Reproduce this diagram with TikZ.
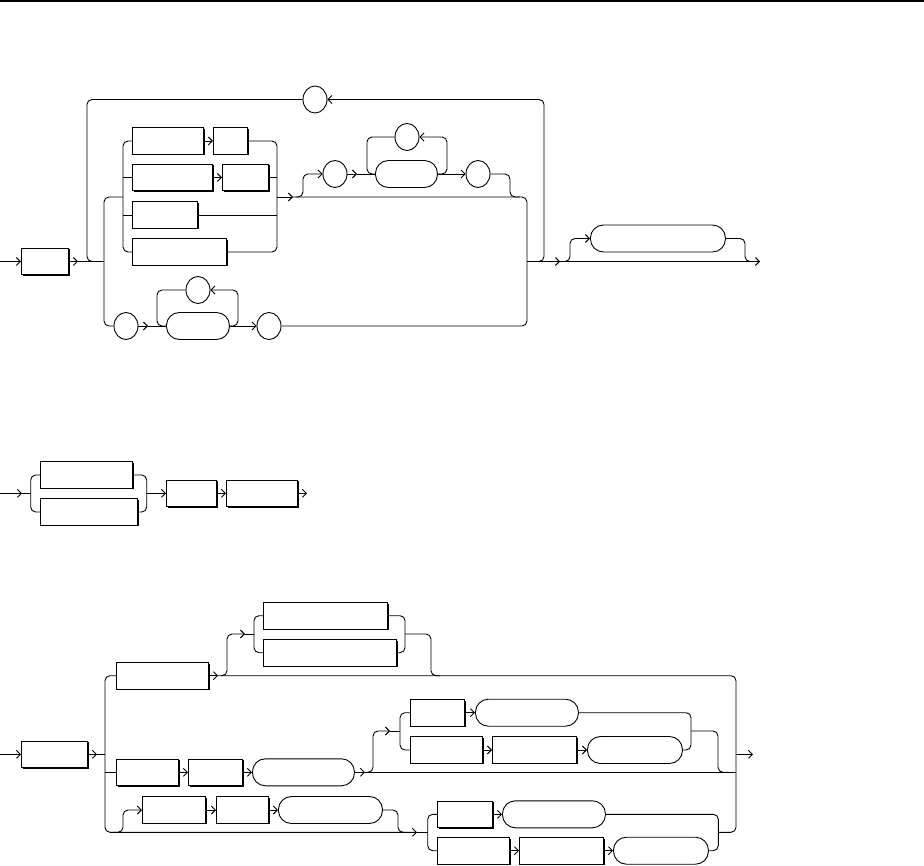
\documentclass[tikz,border=0pt]{standalone}
\usepackage{tikz}
\usetikzlibrary{arrows.meta}
\usetikzlibrary{shadows}
\usetikzlibrary{shapes.geometric}

\begin{document}
\begin{tikzpicture}[x=1pt, y=-1pt, line width=0.9pt,
    arr/.style={-{Straight Barb[length=4pt,width=8pt]}},
    box/.style={draw, fill=white, anchor=west, inner sep=0, minimum height=26.5pt,
      drop shadow={shadow xshift=1.1pt, shadow yshift=-1.1pt, opacity=1, fill=black}},
    pill/.style={draw, fill=white, anchor=west, inner sep=0, minimum height=27pt, rounded corners=13pt},
    rnd/.style={draw, fill=white, ellipse, inner sep=0, minimum width=24pt, minimum height=27pt},
    rc/.style={rounded corners=5pt}]
          \useasboundingbox (0,0) rectangle (924,866);
          \draw [line width=1.3pt] (0,1) -- (924,1);

          % first rule
          \node [box, minimum width=47pt] (a) at (21,261.5) {};
          \node [box, minimum width=71pt] (b1) at (132,141) {};
          \node [box, minimum width=34pt] (b2) at (213,141) {};
          \node [box, minimum width=80pt] (c1) at (132,177.5) {};
          \node [box, minimum width=46pt] (c2) at (222,177.5) {};
          \node [box, minimum width=65pt] (d) at (132,215) {};
          \node [box, minimum width=94pt] (e) at (132,252) {};
          \node [rnd] (t) at (315,99.5) {};
          \node [rnd] (f) at (335,174) {};
          \node [pill, minimum width=62pt] (g) at (375,174) {};
          \node [rnd] (h) at (407,137) {};
          \node [rnd] (i) at (478,174) {};
          \node [pill, minimum width=135pt] (j) at (590,238.5) {};
          \node [rnd] (k) at (126,326) {};
          \node [pill, minimum width=63pt] (l) at (166,326) {};
          \node [rnd] (m) at (198,290) {};
          \node [rnd] (n) at (269,326) {};
          \coordinate (in1) at (0,261.5);
          \coordinate (out1) at (760,261.5);

          \draw [arr] (in1) -- (a.west);
          \draw [arr] (a.east) -- (78,261.5);
          \draw (78,261.5) -- (104,261.5);
          \draw [rc] (t.west) -| (87,261.5) -- (100,261.5);
          \draw [arr, rc] (535,261.5) -| (544,99.5) -- (t.east);
          \draw [rc] (123,197) -| (104,326) -- (k.west);
          \draw [rc] (b1.west) -| (123,252) -- (e.west);
          \draw (123,177.5) -- (c1.west);
          \draw (123,215) -- (d.west);
          \draw [arr] (b1.east) -- (b2.west);
          \draw [arr] (c1.east) -- (c2.west);
          \draw [rc] (b2.east) -| (277,252) -- (e.east);
          \draw (c2.east) -- (277,177.5);
          \draw (d.east) -- (277,215);
          \draw [arr] (277,197) -- (293,197);
          \draw [rc] (293,197) -| (527,326) -- (n.east);
          \draw [arr, rc] (296,197) -| (303,174) -- (f.west);
          \draw [arr] (f.east) -- (357,174);
          \draw (357,174) -- (g.west);
          \draw [rc] (h.west) -| (367,174) -- (g.west);
          \draw [arr, rc] (g.east) -| (447,137) -- (h.east);
          \draw [arr] (g.east) -- (i.west);
          \draw [rc] (i.east) -| (510,197) -- (520,197);
          \draw [arr] (k.east) -- (148,326);
          \draw (148,326) -- (l.west);
          \draw [rc] (m.west) -| (157,326) -- (l.west);
          \draw [arr, rc] (l.east) -| (238,290) -- (m.east);
          \draw [arr] (l.east) -- (n.west);
          \draw [arr] (527,261.5) -- (560,261.5);
          \draw [arr] (560,261.5) -- (out1);
          \draw [arr, rc] (563,261.5) -| (570,238.5) -- (j.west);
          \draw [rc] (j.east) -| (745,261.5) -- (752,261.5);

          % second rule
          \node [box, minimum width=92pt] (p1) at (40,475) {};
          \node [box, minimum width=97pt] (p2) at (40,512) {};
          \node [box, minimum width=50pt] (q) at (166,493.3) {};
          \node [box, minimum width=71pt] (r) at (226,493.3) {};
          \coordinate (in2) at (0,493.3);
          \coordinate (out2) at (307,493.3);
          \draw [arr] (in2) -- (22,493.3);
          \draw (22,493.3) -- (30.7,493.3);
          \draw [rc] (p1.west) -| (30.7,512) -- (p2.west);
          \draw [rc] (p1.east) -| (146.7,512) -- (p2.east);
          \draw [arr] (146.7,493.3) -- (q.west);
          \draw [arr] (q.east) -- (r.west);
          \draw [arr] (r.east) -- (out2);

          % third rule
          \node [box, minimum width=66pt] (s) at (21,754.3) {};
          \node [box, minimum width=92pt] (tt) at (116,675.7) {};
          \node [box, minimum width=124pt] (u1) at (263,615.7) {};
          \node [box, minimum width=133pt] (u2) at (263,652.7) {};
          \node [box, minimum width=62pt] (v1) at (116,772.3) {};
          \node [box, minimum width=54pt] (v2) at (188,772.3) {};
          \node [pill, minimum width=102pt] (v3) at (252,772.3) {};
          \node [box, minimum width=54pt] (w1) at (410,712.7) {};
          \node [pill, minimum width=103pt] (w2) at (475,712.7) {};
          \node [box, minimum width=72pt] (x1) at (410,750) {};
          \node [box, minimum width=84pt] (x2) at (492,750) {};
          \node [pill, minimum width=95pt] (x3) at (587,750) {};
          \node [box, minimum width=63pt] (y1) at (142,810) {};
          \node [box, minimum width=52pt] (y2) at (216,810) {};
          \node [pill, minimum width=104pt] (y3) at (278,810) {};
          \node [box, minimum width=55pt] (z1) at (437,814.3) {};
          \node [pill, minimum width=103pt] (z2) at (502,814.3) {};
          \node [box, minimum width=72pt] (z3) at (437,850.7) {};
          \node [box, minimum width=84pt] (z4) at (519,850.7) {};
          \node [pill, minimum width=95pt] (z5) at (613,850.7) {};
          \coordinate (in3) at (0,754.3);
          \coordinate (out3) at (753,754.3);

          \draw [arr] (in3) -- (s.west);
          \draw [arr] (s.east) -- (97,754.3);
          \draw (97,754.3) -- (105,754.3);
          \draw [arr, rc] (tt.west) -| (105,832.3) -- (417,832.3);
          \draw (417,832.3) -- (427.7,832.3);
          \draw (105,772.3) -- (v1.west);
          \draw [arr] (tt.east) -- (218,675.7);
          \draw [rc] (218,675.7) -| (736,832.3) -- (718.3,832.3);
          \draw [arr] (736,754.3) -- (out3);
          \draw [arr, rc] (221,675.7) -| (227,634) -- (245,634);
          \draw (245,634) -- (254,634);
          \draw [rc] (u1.west) -| (254,652.7) -- (u2.west);
          \draw [rc] (u1.east) -| (405,652.7) -- (u2.east);
          \draw [rc] (405,634) -| (431,675.7) -- (440,675.7);
          \draw [arr] (v1.east) -- (v2.west);
          \draw [arr] (v2.east) -- (v3.west);
          \draw [arr] (v3.east) -- (365,772.3);
          \draw (365,772.3) -- (736,772.3);
          \draw [arr, rc] (367,772.3) -| (373,731) -- (390,731);
          \draw (390,731) -- (400,731);
          \draw [rc] (w1.west) -| (400,750) -- (x1.west);
          \draw [rc] (w2.east) -| (691,750) -- (x3.east);
          \draw [arr] (w1.east) -- (w2.west);
          \draw [arr] (x1.east) -- (x2.west);
          \draw [arr] (x2.east) -- (x3.west);
          \draw [rc] (691,731) -| (718,772.3) -- (728,772.3);
          \draw [arr, rc] (113,832.3) -| (123,810) -- (y1.west);
          \draw [arr] (y1.east) -- (y2.west);
          \draw [arr] (y2.east) -- (y3.west);
          \draw [rc] (y3.east) -| (398,832.3) -- (405,832.3);
          \draw [rc] (z1.west) -| (427.7,850.7) -- (z3.west);
          \draw [rc] (z2.east) -| (718.3,850.7) -- (z5.east);
          \draw [arr] (z1.east) -- (z2.west);
          \draw [arr] (z3.east) -- (z4.west);
          \draw [arr] (z4.east) -- (z5.west);
        \end{tikzpicture}
\end{document}
